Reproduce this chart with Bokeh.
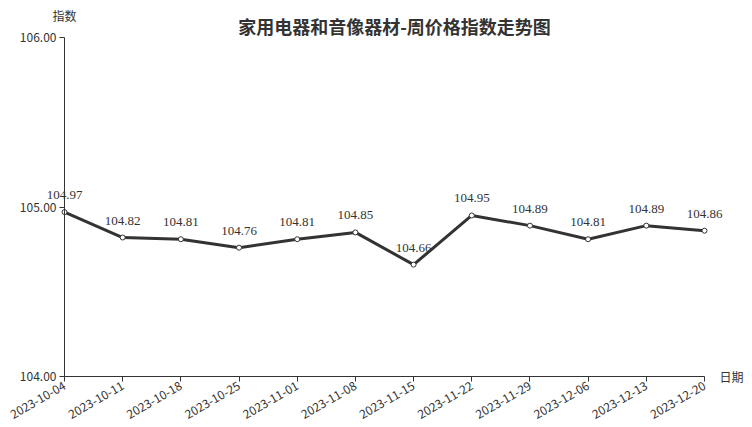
import math
from bokeh.plotting import figure
from bokeh.models import (ColumnDataSource, Range1d, FixedTicker, NumeralTickFormatter, Label,
                          LinearAxis, LabelSet)
from bokeh.embed import file_html
from bokeh.resources import INLINE

dates = ["2023-10-04", "2023-10-11", "2023-10-18", "2023-10-25", "2023-11-01", "2023-11-08",
         "2023-11-15", "2023-11-22", "2023-11-29", "2023-12-06", "2023-12-13", "2023-12-20"]
index_values = [104.97, 104.82, 104.81, 104.76, 104.81, 104.85,
                104.66, 104.95, 104.89, 104.81, 104.89, 104.86]
y_ticks = [104.0, 105.0, 106.0]
y_min, y_max = 104.0, 106.0

FONT = "Noto Sans CJK SC"
INK = "#333333"

# canvas size and the plotting box inside it (pixels)
W, H = 752, 427
BOX_L, BOX_R, BOX_T, BOX_B = 64, 704, 37, 376

n = len(dates)
x_per_px = (n - 1) / (BOX_R - BOX_L)
y_per_px = (y_max - y_min) / (BOX_B - BOX_T)
x_range = Range1d(0 - BOX_L * x_per_px, (n - 1) + (W - BOX_R) * x_per_px)
y_range = Range1d(y_min - (H - BOX_B) * y_per_px, y_max + BOX_T * y_per_px)

xs = list(range(n))
src = ColumnDataSource(dict(x=xs, y=index_values, lbl=[f"{v:.2f}" for v in index_values]))

p = figure(width=W, height=H, output_backend="svg", toolbar_location=None,
           x_range=x_range, y_range=y_range, x_axis_location=None, y_axis_location=None,
           min_border=0, min_border_left=0, min_border_right=0, min_border_top=0, min_border_bottom=0)
p.outline_line_color = None
p.grid.visible = False
p.background_fill_color = "white"
p.border_fill_color = "white"

# axes pinned to the edges of the plotting box
yaxis = LinearAxis(fixed_location=0, bounds=(y_min, y_max), ticker=FixedTicker(ticks=y_ticks),
                   formatter=NumeralTickFormatter(format="0.00"))
xaxis = LinearAxis(fixed_location=y_min, bounds=(0, n - 1), ticker=FixedTicker(ticks=xs),
                   major_label_overrides={i: d for i, d in enumerate(dates)},
                   major_label_orientation=math.pi / 6)
for ax in (xaxis, yaxis):
    ax.axis_line_color = INK
    ax.axis_line_width = 1
    ax.major_tick_line_color = INK
    ax.major_tick_out = 5
    ax.major_tick_in = 0
    ax.minor_tick_line_color = None
    ax.major_label_text_font = FONT
    ax.major_label_text_font_size = "12px"
    ax.major_label_text_color = INK
    ax.major_label_standoff = 3
p.add_layout(yaxis, "left")
p.add_layout(xaxis, "below")

p.line("x", "y", source=src, line_color=INK, line_width=3)
p.scatter("x", "y", source=src, size=5, fill_color="white", line_color=INK, line_width=1)

# value labels above each point
p.add_layout(LabelSet(x="x", y="y", text="lbl", source=src, y_offset=13, text_align="center",
                      text_baseline="alphabetic", text_font=FONT, text_font_size="13px",
                      text_color=INK))


def screen_label(cx, cy, text, size, style="normal"):
    # cx, cy in canvas pixels from the top-left corner
    p.add_layout(Label(x=cx, y=H - cy, x_units="screen", y_units="screen",
                       text=text, text_align="center", text_baseline="middle", text_font=FONT,
                       text_font_size=size, text_font_style=style, text_color=INK))


screen_label(394, 25, "家用电器和音像器材-周价格指数走势图", "18px", "bold")
screen_label(64, 15, "指数", "12px")
screen_label(731, 376, "日期", "12px")

open("out.html", "w").write(file_html(p, INLINE))
